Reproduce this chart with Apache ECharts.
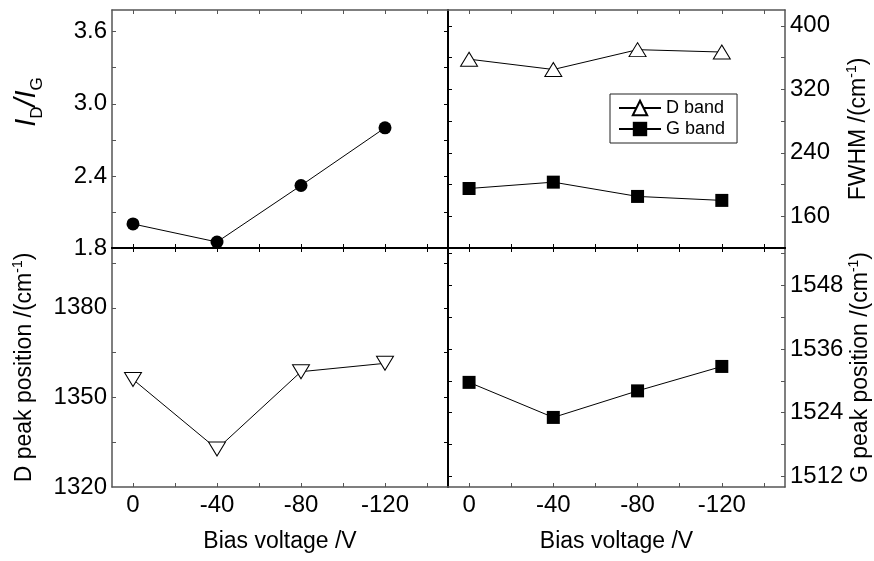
<!DOCTYPE html>
<html lang="en">
<head>
    <meta charset="UTF-8">
    <title>Bias voltage Raman</title>
    <script src="https://cdn.jsdelivr.net/npm/echarts@6/dist/echarts.min.js"></script>
    <style>
        html, body { margin: 0; padding: 0; background: #fff; }
        #my { width: 874px; height: 561px; }
    </style>
</head>
<body>
<div id="my"></div>
<script>
    // data
    var biasV = [0, -40, -80, -120]
    var ratioIDIG = [2.0, 1.85, 2.32, 2.80]
    var fwhmD = [358, 345, 370, 367]
    var fwhmG = [195, 203, 185, 180]
    var posD = [1356, 1332.7, 1358.6, 1361.4]
    var posG = [1529.7, 1523.1, 1528.1, 1532.7]

    // tick labels
    var biasTicks = [0, -40, -80, -120]
    var biasMinor = [0, -20, -40, -60, -80, -100, -120, -140]
    var ratioTicks = [1.8, 2.4, 3.0, 3.6]
    var ratioMinor = [2.1, 2.4, 2.7, 3.0, 3.3, 3.6]
    var fwhmTicks = [160, 240, 320, 400]
    var fwhmMinor = [160, 200, 240, 280, 320, 360, 400]
    var posDTicks = [1320, 1350, 1380]
    var posDMinor = [1335, 1350, 1365, 1380, 1395]
    var posGTicks = [1512, 1524, 1536, 1548]
    var posGMinor = [1512, 1518, 1524, 1530, 1536, 1542, 1548, 1554]

    var FONT = 'Arial, "Liberation Sans", sans-serif'
    var GRAY = '#555'
    var BLACK = '#000'

    function pairs(xs, ys) {
        return xs.map(function (x, i) { return [x, ys[i]] })
    }

    function xAx(grid, pos, color, width, labels) {
        return {
            type: 'value', gridIndex: grid, position: pos, inverse: true, min: -150, max: 10,
            axisLine: { show: true, onZero: false, lineStyle: { color: color, width: width } },
            axisTick: { show: true, inside: true, length: 4, customValues: biasMinor, lineStyle: { color: color } },
            axisLabel: {
                show: labels, customValues: biasTicks, margin: 6, color: '#000',
                fontSize: 24, fontFamily: FONT,
                formatter: function (v) { return String(v) }
            },
            splitLine: { show: false },
            name: labels ? 'Bias voltage /V' : '',
            nameLocation: 'middle', nameGap: 43,
            nameTextStyle: { color: '#000', fontSize: 23, fontFamily: FONT }
        }
    }

    function yAx(grid, pos, min, max, ticks, minor, digits, color, width, labels, name, gap, nameStyle) {
        return {
            type: 'value', gridIndex: grid, position: pos, min: min, max: max,
            axisLine: { show: true, onZero: false, lineStyle: { color: color, width: width } },
            axisTick: { show: true, inside: true, length: 4, customValues: minor, lineStyle: { color: color } },
            axisLabel: {
                show: labels, customValues: ticks, margin: 5, color: '#000',
                fontSize: 24, fontFamily: FONT,
                formatter: function (v) { return v.toFixed(digits) }
            },
            splitLine: { show: false },
            name: labels ? name : '',
            nameLocation: 'middle', nameRotate: 90, nameGap: gap,
            nameTextStyle: nameStyle
        }
    }

    var supRich = {
        n: { fontSize: 23, fontFamily: FONT, color: '#000', lineHeight: 27 },
        sup: { fontSize: 14, fontFamily: FONT, color: '#000', verticalAlign: 'top', lineHeight: 27, padding: [0, 0, 10, 0] }
    }
    var ratioRich = {
        it: { fontSize: 29, fontStyle: 'italic', fontFamily: FONT, color: '#000', lineHeight: 29, padding: [0, 0, 10, 0] },
        sub: { fontSize: 17, fontFamily: FONT, color: '#000', lineHeight: 17, verticalAlign: 'bottom' }
    }

    var mCharts = echarts.init(document.getElementById('my'))
    var option = {
        animation: false,
        backgroundColor: '#fff',
        grid: [
            { left: 112, top: 10, width: 336, height: 238 },
            { left: 448, top: 10, width: 337, height: 238 },
            { left: 112, top: 248, width: 336, height: 239 },
            { left: 448, top: 248, width: 337, height: 239 }
        ],
        legend: {
            data: ['D band', 'G band'],
            orient: 'vertical', left: 610, top: 94,
            itemWidth: 42, itemHeight: 18, itemGap: 3,
            padding: [5, 12, 5, 8],
            borderColor: '#222', borderWidth: 1,
            textStyle: { fontSize: 18, fontFamily: FONT, color: '#000' }
        },
        xAxis: [
            xAx(0, 'bottom', BLACK, 2, false),
            xAx(1, 'bottom', BLACK, 2, false),
            xAx(2, 'bottom', GRAY, 1.5, true),
            xAx(3, 'bottom', GRAY, 1.5, true),
            xAx(0, 'top', GRAY, 1.5, false),
            xAx(1, 'top', GRAY, 1.5, false),
            xAx(2, 'top', BLACK, 2, false),
            xAx(3, 'top', BLACK, 2, false)
        ],
        yAxis: [
            yAx(0, 'left', 1.8, 3.78, ratioTicks, ratioMinor, 1, GRAY, 1.5, true,
                '{it|I}{sub|D}{it|/I}{sub|G}', 66, { rich: ratioRich, padding: [0, 0, 0, 54] }),
            yAx(1, 'right', 120, 420, fwhmTicks, fwhmMinor, 0, GRAY, 1.5, true,
                '{n|FWHM /(cm}{sup|-1}{n|)}', 60, { rich: supRich }),
            yAx(2, 'left', 1320, 1400, posDTicks, posDMinor, 0, GRAY, 1.5, true,
                '{n|D peak position /(cm}{sup|-1}{n|)}', 74, { rich: supRich }),
            yAx(3, 'right', 1510, 1555, posGTicks, posGMinor, 0, GRAY, 1.5, true,
                '{n|G peak position /(cm}{sup|-1}{n|)}', 62, { rich: supRich }),
            yAx(0, 'right', 1.8, 3.78, ratioTicks, ratioMinor, 1, BLACK, 2, false),
            yAx(1, 'left', 120, 420, fwhmTicks, fwhmMinor, 0, BLACK, 2, false),
            yAx(2, 'right', 1320, 1400, posDTicks, posDMinor, 0, BLACK, 2, false),
            yAx(3, 'left', 1510, 1555, posGTicks, posGMinor, 0, BLACK, 2, false)
        ],
        series: [
            {
                name: 'ID/IG', type: 'line', xAxisIndex: 0, yAxisIndex: 0,
                data: pairs(biasV, ratioIDIG),
                symbol: 'circle', symbolSize: 13,
                itemStyle: { color: '#000' }, lineStyle: { color: '#000', width: 1 }
            },
            {
                name: 'D band', type: 'line', xAxisIndex: 1, yAxisIndex: 1,
                data: pairs(biasV, fwhmD),
                symbol: 'triangle', symbolSize: [17, 14],
                itemStyle: { color: '#fff', borderColor: '#000', borderWidth: 1 },
                lineStyle: { color: '#000', width: 1 }
            },
            {
                name: 'G band', type: 'line', xAxisIndex: 1, yAxisIndex: 1,
                data: pairs(biasV, fwhmG),
                symbol: 'rect', symbolSize: 13,
                itemStyle: { color: '#000' }, lineStyle: { color: '#000', width: 1 }
            },
            {
                name: 'D peak', type: 'line', xAxisIndex: 2, yAxisIndex: 2,
                data: pairs(biasV, posD),
                symbol: 'triangle', symbolSize: [17, 14], symbolRotate: 180,
                itemStyle: { color: '#fff', borderColor: '#000', borderWidth: 1 },
                lineStyle: { color: '#000', width: 1 }
            },
            {
                name: 'G peak', type: 'line', xAxisIndex: 3, yAxisIndex: 3,
                data: pairs(biasV, posG),
                symbol: 'rect', symbolSize: 13,
                itemStyle: { color: '#000' }, lineStyle: { color: '#000', width: 1 }
            }
        ]
    }
    mCharts.setOption(option)
</script>
</body>
</html>
